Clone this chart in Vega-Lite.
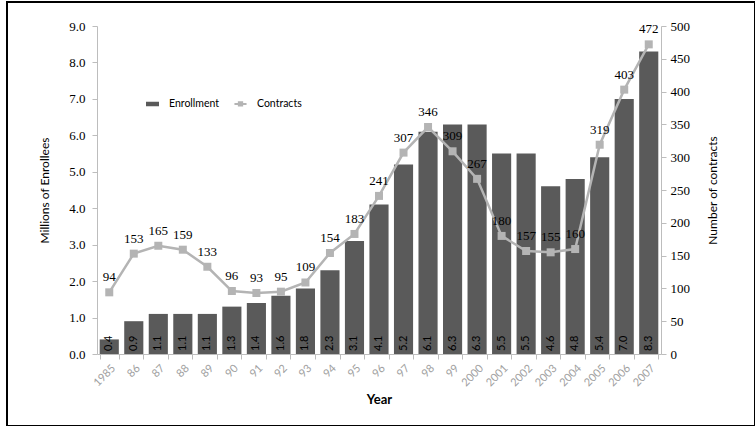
{
  "$schema": "https://vega.github.io/schema/vega-lite/v6.json",
  "width": 748,
  "height": 424,
  "autosize": "none",
  "padding": {"left": 7, "top": 2, "right": 0, "bottom": 0},
  "background": "white",
  "config": {
    "view": {"stroke": "#000000", "strokeWidth": 2},
    "axis": {"grid": false, "domainColor": "#bdbdbd", "tickColor": "#bdbdbd", "tickSize": 5}
  },
  "data": {
    "values": [
      {"Year": "1985", "Enrollment": 0.4, "Contracts": 94},
      {"Year": "86", "Enrollment": 0.9, "Contracts": 153},
      {"Year": "87", "Enrollment": 1.1, "Contracts": 165},
      {"Year": "88", "Enrollment": 1.1, "Contracts": 159},
      {"Year": "89", "Enrollment": 1.1, "Contracts": 133},
      {"Year": "90", "Enrollment": 1.3, "Contracts": 96},
      {"Year": "91", "Enrollment": 1.4, "Contracts": 93},
      {"Year": "92", "Enrollment": 1.6, "Contracts": 95},
      {"Year": "93", "Enrollment": 1.8, "Contracts": 109},
      {"Year": "94", "Enrollment": 2.3, "Contracts": 154},
      {"Year": "95", "Enrollment": 3.1, "Contracts": 183},
      {"Year": "96", "Enrollment": 4.1, "Contracts": 241},
      {"Year": "97", "Enrollment": 5.2, "Contracts": 307},
      {"Year": "98", "Enrollment": 6.1, "Contracts": 346},
      {"Year": "99", "Enrollment": 6.3, "Contracts": 309},
      {"Year": "2000", "Enrollment": 6.3, "Contracts": 267},
      {"Year": "2001", "Enrollment": 5.5, "Contracts": 180},
      {"Year": "2002", "Enrollment": 5.5, "Contracts": 157},
      {"Year": "2003", "Enrollment": 4.6, "Contracts": 155},
      {"Year": "2004", "Enrollment": 4.8, "Contracts": 160},
      {"Year": "2005", "Enrollment": 5.4, "Contracts": 319},
      {"Year": "2006", "Enrollment": 7.0, "Contracts": 403},
      {"Year": "2007", "Enrollment": 8.3, "Contracts": 472}
    ]
  },
  "encoding": {
    "x": {
      "field": "Year",
      "type": "ordinal",
      "sort": null,
      "scale": {"range": [90, 654], "paddingInner": 0.22, "paddingOuter": 0.11},
      "axis": {
        "title": "Year",
        "titleFont": "Lato",
        "titleFontWeight": "bold",
        "titleFontSize": 13,
        "titleColor": "#000000",
        "titlePadding": 6,
        "labelAngle": -45,
        "labelColor": "#a0a0a0",
        "labelFont": "Lato",
        "labelFontSize": 11,
        "labelPadding": 3,
        "tickBand": "extent",
        "offset": -72
      }
    }
  },
  "layer": [
    {
      "layer": [
        {
          "mark": {"type": "bar", "color": "#5a5a5a"},
          "encoding": {
            "y": {
              "field": "Enrollment",
              "type": "quantitative",
              "scale": {"domain": [0, 9], "range": [352, 24], "nice": false},
              "axis": {
                "orient": "left",
                "offset": -90,
                "title": "Millions of Enrollees",
                "values": [0, 1, 2, 3, 4, 5, 6, 7, 8, 9],
                "format": ".1f",
                "labelFont": "Liberation Serif",
                "labelFontSize": 13,
                "labelColor": "#000000",
                "labelPadding": 7,
                "titleFont": "Lato",
                "titleFontSize": 12,
                "titleFontWeight": "normal",
                "titleColor": "#000000",
                "titlePadding": 17
              }
            },
            "color": {
              "datum": "Enrollment",
              "scale": {"domain": ["Enrollment", "Contracts"], "range": ["#5a5a5a", "#b4b4b4"]},
              "legend": {
                "title": null,
                "orient": "none",
                "direction": "horizontal",
                "legendX": 139,
                "legendY": 95,
                "labelFont": "Lato",
                "labelFontSize": 10.5,
                "labelColor": "#000000",
                "symbolSize": 121,
                "labelOffset": 10,
                "columnPadding": 10,
                "encode": {
                  "symbols": {
                    "update": {
                      "shape": {"signal": "datum.value === 'Enrollment' ? 'M-1,-0.22H1V0.22H-1Z' : 'M-1.1,0H1.1M-0.3,-0.3H0.3V0.3H-0.3Z'"},
                      "fill": {"signal": "datum.value === 'Enrollment' ? '#5a5a5a' : '#b4b4b4'"},
                      "stroke": {"signal": "datum.value === 'Enrollment' ? 'transparent' : '#b4b4b4'"},
                      "strokeWidth": {"value": 2},
                      "opacity": {"value": 1},
                      "fillOpacity": {"value": 1},
                      "strokeOpacity": {"value": 1}
                    }
                  }
                }
              }
            }
          }
        },
        {
          "mark": {"type": "text", "angle": 270, "align": "left", "baseline": "middle", "dx": 3, "font": "Lato", "fontSize": 11, "color": "#000000"},
          "encoding": {
            "y": {"datum": 0, "type": "quantitative"},
            "text": {"field": "Enrollment", "type": "quantitative", "format": ".1f"}
          }
        }
      ]
    },
    {
      "layer": [
        {
          "mark": {"type": "line", "strokeWidth": 2.5, "point": {"shape": "square", "size": 64, "filled": true, "opacity": 1}},
          "encoding": {
            "y": {
              "field": "Contracts",
              "type": "quantitative",
              "scale": {"domain": [0, 500], "range": [352, 24], "nice": false},
              "axis": {
                "orient": "right",
                "offset": -94,
                "title": "Number of contracts",
                "values": [0, 50, 100, 150, 200, 250, 300, 350, 400, 450, 500],
                "labelFont": "Liberation Serif",
                "labelFontSize": 13,
                "labelColor": "#000000",
                "labelPadding": 4,
                "titleFont": "Lato",
                "titleFontSize": 12,
                "titleFontWeight": "normal",
                "titleColor": "#000000",
                "titleAngle": 270,
                "titlePadding": 30
              }
            },
            "color": {"datum": "Contracts"}
          }
        },
        {
          "mark": {"type": "text", "dy": -15, "align": "center", "baseline": "middle", "font": "Liberation Serif", "fontSize": 13, "color": "#000000"},
          "encoding": {
            "y": {"field": "Contracts", "type": "quantitative"},
            "text": {"field": "Contracts", "type": "quantitative"}
          }
        }
      ]
    }
  ],
  "resolve": {"scale": {"y": "independent"}}
}
